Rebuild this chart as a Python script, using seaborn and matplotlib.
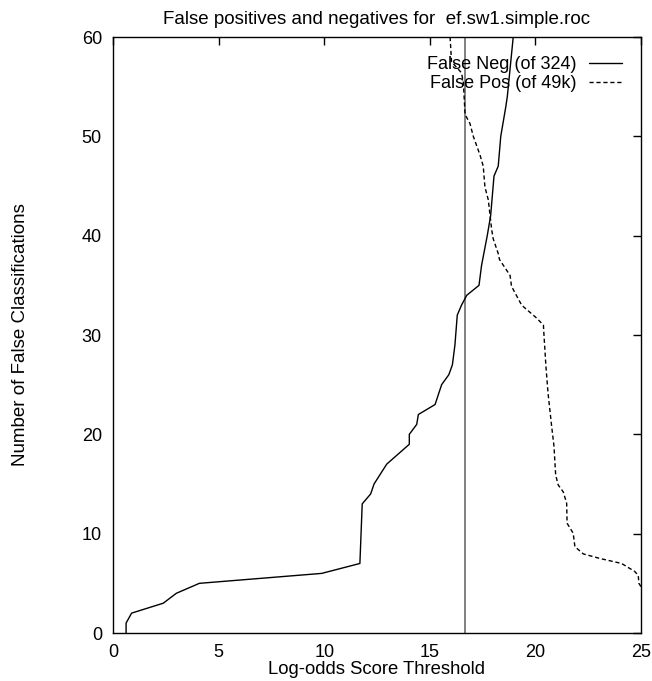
import matplotlib
matplotlib.use("Agg")
import matplotlib.pyplot as plt
import seaborn as sns
import pandas as pd

# False negatives (of 324)
fn_x = [0.62, 0.62, 0.88, 2.38, 3.0, 4.09, 9.88, 11.69, 11.8, 12.2, 12.36, 12.96,
        14.03, 14.03, 14.38, 14.46, 15.25, 15.56, 15.9, 16.07, 16.19, 16.3, 16.5,
        16.75, 17.33, 17.45, 17.72, 17.88, 18.04, 18.24, 18.36, 18.6, 18.67, 18.95]
fn_y = [0, 1, 2, 3, 4, 5, 6, 7, 13, 14, 15, 17,
        19, 20, 21, 22, 23, 25, 26, 27, 29, 32, 33,
        34, 35, 37, 40, 42, 46, 47, 50, 53, 54, 60]

# False positives (of 49k)
fp_x = [15.96, 16.03, 16.5, 16.59, 16.67, 16.9, 17.06, 17.38, 17.53, 17.61, 17.77,
        17.93, 18.0, 18.24, 18.3, 18.8, 18.87, 19.35, 20.06, 20.38, 20.4, 20.5,
        20.6, 20.77, 20.88, 20.96, 21.08, 21.32, 21.48, 21.5, 21.79, 21.87, 22.27,
        23.06, 24.08, 24.7, 24.87, 24.9, 25.0]
fp_y = [60, 57.5, 56.4, 55.4, 52.2, 51.3, 50, 48.1, 47, 44.9, 43.6,
        40.6, 39.7, 38.2, 37.6, 36, 34.9, 33, 31.7, 31, 30.2, 26.8,
        24.1, 20.8, 18.8, 15.9, 14.9, 14.2, 13.06, 11.05, 10.04, 8.69, 7.96,
        7.5, 7.0, 6.2, 5.8, 5.0, 4.66]

threshold = 16.67
title = "False positives and negatives for  ef.sw1.simple.roc"
x_label = "Log-odds Score Threshold"
y_label = "Number of False Classifications"
fn_label = "False Neg (of 324)"
fp_label = "False Pos (of 49k)"
x_ticks = [0, 5, 10, 15, 20, 25]
y_ticks = [0, 10, 20, 30, 40, 50, 60]

sns.set_theme(style="white")
plt.rcParams['font.family'] = ['Liberation Sans', 'DejaVu Sans']
plt.rcParams['text.color'] = 'black'
plt.rcParams['axes.labelcolor'] = 'black'

fig = plt.figure(figsize=(6.52, 6.81), dpi=100)
ax = fig.add_axes([113/652, 48/681, 528/652, 596/681])

df_fn = pd.DataFrame({"x": fn_x, "y": fn_y})
df_fp = pd.DataFrame({"x": fp_x, "y": fp_y})

ax.axvline(threshold, color="#808080", lw=1.4, zorder=1)
sns.lineplot(data=df_fn, x="x", y="y", ax=ax, color="black", lw=1.0,
             estimator=None, sort=False, label=fn_label)
sns.lineplot(data=df_fp, x="x", y="y", ax=ax, color="black", lw=1.0,
             estimator=None, sort=False, label=fp_label, dashes=False)
ax.lines[-1].set_linestyle((0, (3, 2)))

ax.set_xlim(0, 25)
ax.set_ylim(0, 60)
ax.set_xticks(x_ticks)
ax.set_yticks(y_ticks)
ax.tick_params(direction="in", length=6, width=1, top=True, right=True,
               labelsize=13, colors="black")
ax.tick_params(axis="y", pad=8)
ax.tick_params(axis="x", pad=8)
for s in ax.spines.values():
    s.set_color("black")
    s.set_linewidth(1.0)

ax.set_title(title, fontsize=13.5, pad=9, color="black")
ax.set_xlabel(x_label, fontsize=13.3, labelpad=0, color="black")
ax.set_ylabel(y_label, fontsize=13.5, labelpad=38, color="black")

leg = ax.legend(loc="upper right", frameon=False, markerfirst=False,
                fontsize=13, handlelength=1.85, borderaxespad=0.65,
                labelspacing=0.12, handletextpad=0.7)
for t in leg.get_texts():
    t.set_color("black")
for h in leg.get_lines():
    h.set_linewidth(1.0)

fig.savefig("out.png", dpi=100)
